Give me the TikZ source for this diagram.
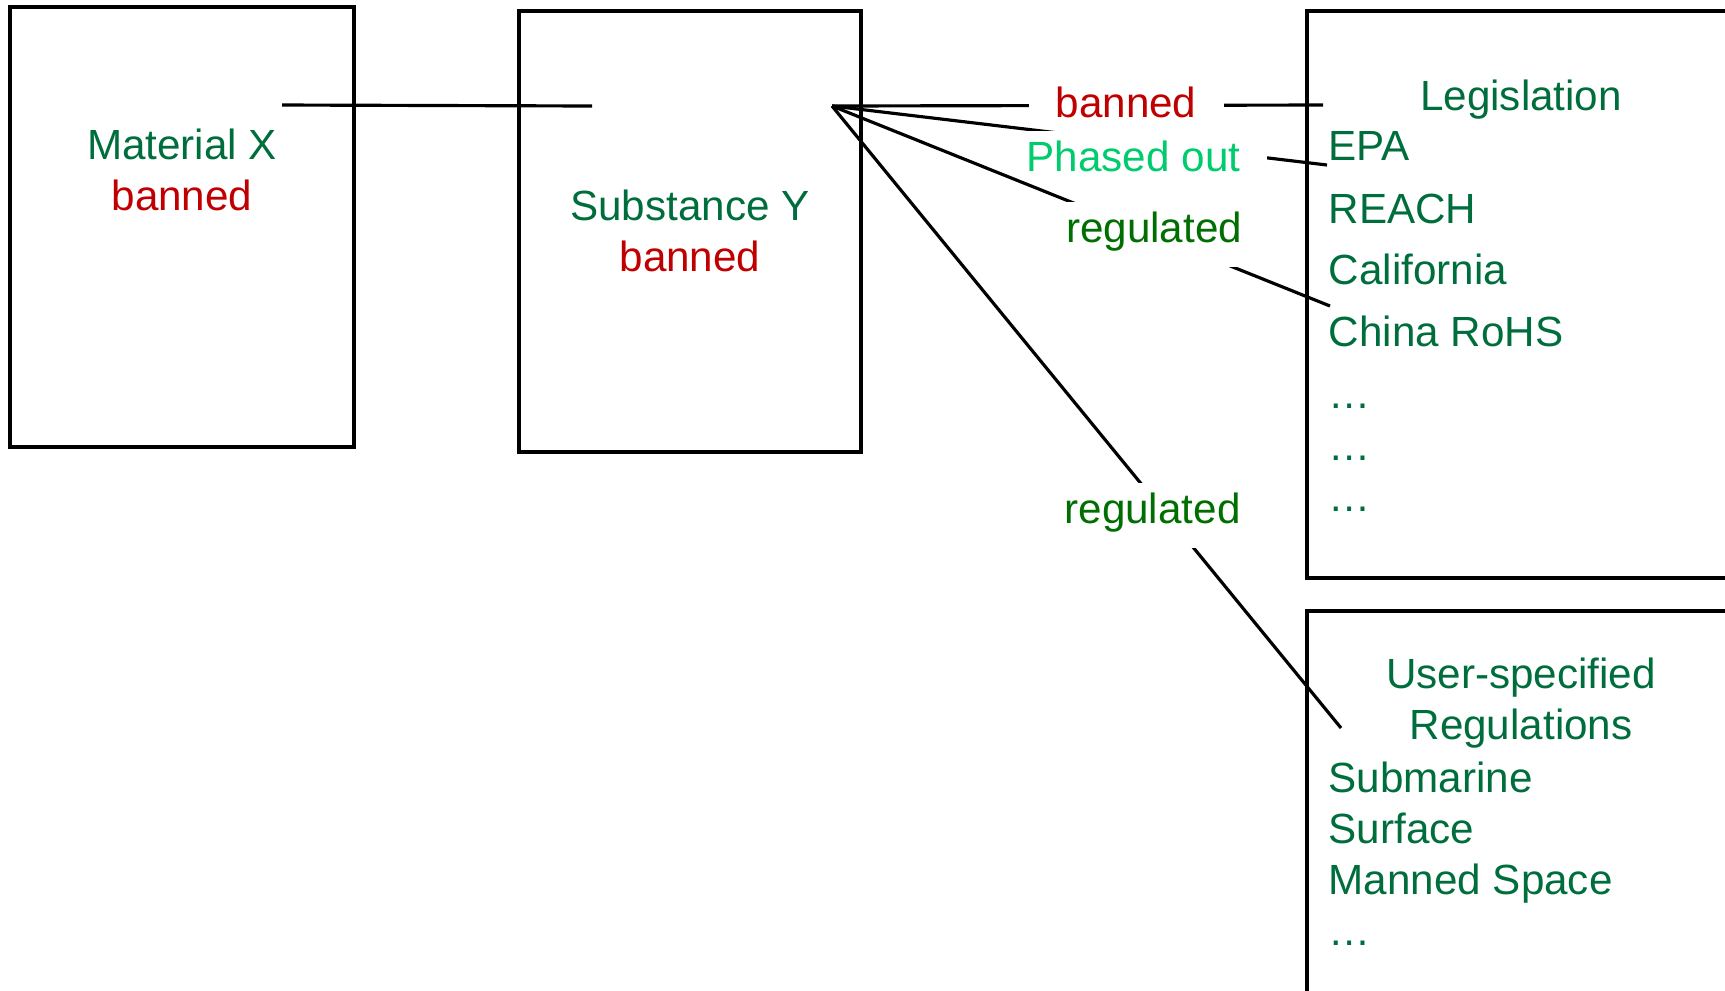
\documentclass[tikz,border=0pt]{standalone}
\usepackage{fontspec}
\setmainfont{Liberation Sans}
\definecolor{matgreen}{RGB}{0,110,60}
\definecolor{reggreen}{RGB}{0,110,0}
\definecolor{phasegreen}{RGB}{0,204,110}
\definecolor{banred}{RGB}{192,0,0}
\begin{document}
\begin{tikzpicture}[x=0.01cm,y=-0.01cm]
\tikzstyle{every node}=[font=\fontsize{12}{14.4}\selectfont];
\tikzstyle{box}=[draw,line width=1.2pt];
\tikzstyle{txt}=[anchor=base,inner sep=0pt];
\tikzstyle{item}=[anchor=base west,inner sep=0pt,text=matgreen];
\tikzstyle{lbl}=[anchor=base,fill=white,inner xsep=7.7pt,inner ysep=3pt,text height=8.5pt,text depth=4pt];
\tikzstyle{wire}=[line width=0.9pt];
\clip (0,0) rectangle (1725,990);
% boxes
\node (MX) [box,minimum width=3.44cm,minimum height=4.4cm] at (182,227) {};
\node (SY) [box,minimum width=3.42cm,minimum height=4.41cm] at (690,231.5) {};
\node (LG) [box,minimum width=4.28cm,minimum height=5.67cm] at (1521,294.5) {};
\node (US) [box,minimum width=4.28cm,minimum height=4.4cm] at (1521,831) {};
% texts in the boxes
\node (MXt) [txt,text=matgreen] at (182,159) {Material X};
\node (MXb) [txt,text=banred] at (182,210) {banned};
\node (SYt) [txt,text=matgreen] at (690,220) {Substance Y};
\node (SYb) [txt,text=banred] at (690,271) {banned};
\node (LGt) [txt,text=matgreen] at (1521,110) {Legislation};
\foreach \t/\y [count=\i] in {EPA/160,REACH/223,California/284,China RoHS/346,…/408,…/460,…/511}
  \node (L\i) [item] at (1328,\y) {\t};
\node (USt) [txt,text=matgreen] at (1521,688) {User-specified};
\node (USr) [txt,text=matgreen] at (1521,739) {Regulations};
\foreach \t/\y [count=\i] in {Submarine/792,Surface/843,Manned Space/894,…/945}
  \node (U\i) [item] at (1328,\y) {\t};
% connectors, each followed by its label
\coordinate (hub) at (832,106);
\coordinate (MXc) at (282,105);
\coordinate (SYc) at (592,106);
\coordinate (BNe) at (1323,105);
\coordinate (POe) at (1327,165);
\coordinate (RGe) at (1330,306);
\coordinate (USe) at (1341,728);
\draw[wire] (MXc) -- (SYc);
\draw[wire] (hub) -- (BNe);
\node (BN) [lbl,text=banred] at (1126,117) {banned};
\draw[wire] (hub) -- (POe);
\node (PO) [lbl,text=phasegreen] at (1133.5,171) {Phased out};
\draw[wire] (hub) -- (RGe);
\node (RG1) [lbl,text=reggreen] at (1154,242) {regulated};
\draw[wire] (hub) -- (USe);
\node (RG2) [lbl,text=reggreen] at (1152.5,523) {regulated};
\end{tikzpicture}
\end{document}
